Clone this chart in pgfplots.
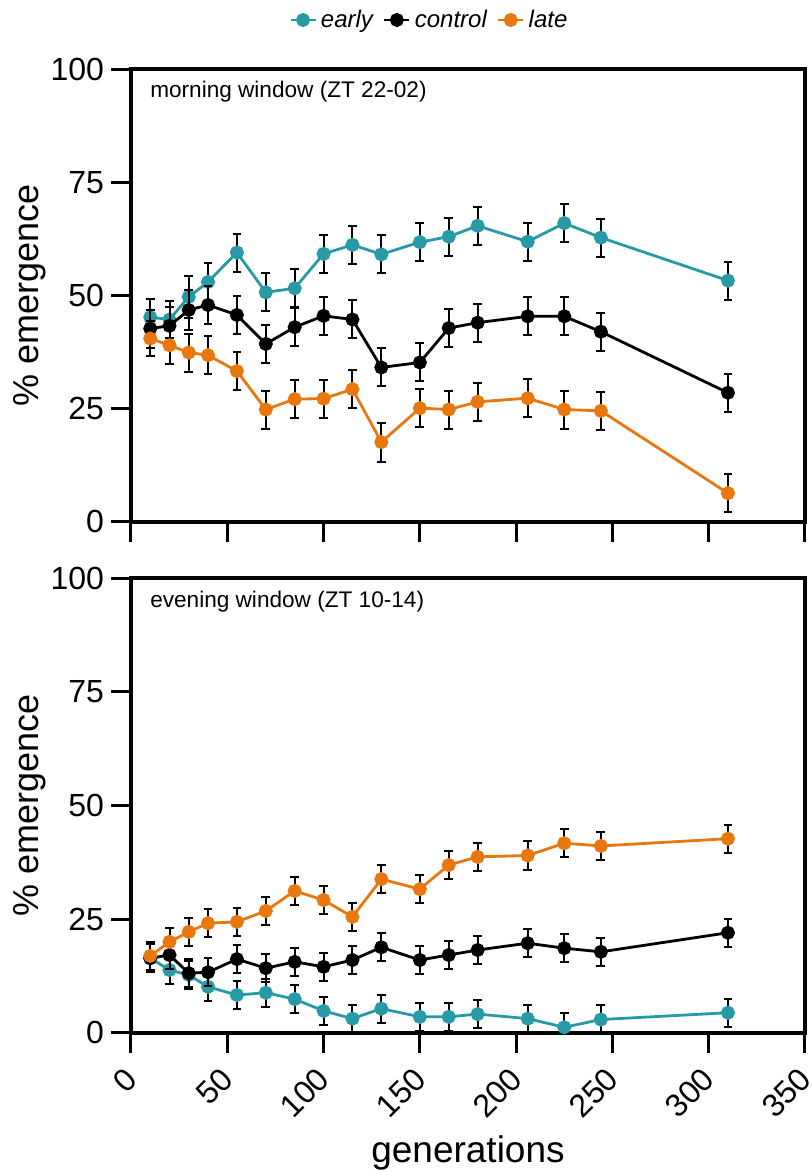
\documentclass[border=0pt]{standalone}
\usepackage{pgfplots}
\pgfplotsset{compat=1.18}
\usepackage{pgfplotstable}
\usepackage{fontspec}
\setmainfont{Liberation Sans}
\definecolor{cteal}{RGB}{40,154,166}
\definecolor{corange}{RGB}{232,119,14}

\pgfplotstableread{
gen early eerr control cerr late lerr
10  45.2 4.0 42.7 4.2 40.5 3.8
20  44.7 4.0 43.3 4.2 39.0 4.2
30  49.7 4.6 46.8 4.5 37.4 4.2
40  53.0 4.2 47.9 4.2 36.8 4.2
55  59.5 4.2 45.7 4.2 33.3 4.2
70  50.7 4.2 39.3 4.2 24.8 4.2
85  51.6 4.2 43.0 4.2 27.1 4.2
100 59.2 4.2 45.5 4.2 27.2 4.2
115 61.2 4.2 44.7 4.2 29.3 4.2
130 59.1 4.2 34.1 4.2 17.6 4.3
150 61.8 4.2 35.2 4.2 25.1 4.2
165 63.0 4.2 42.8 4.2 24.8 4.2
180 65.4 4.2 44.0 4.2 26.5 4.2
206 61.9 4.2 45.4 4.2 27.3 4.2
225 66.0 4.2 45.4 4.2 24.8 4.2
244 62.8 4.2 42.0 4.2 24.5 4.2
310 53.3 4.2 28.5 4.2 6.3 4.2
}\topdata

\pgfplotstableread{
gen early eerr control cerr late lerr
10  16.4 3.1 16.4 3.1 16.9 3.1
20  13.8 3.1 17.1 3.1 20.0 3.1
30  12.7 3.1 13.1 3.1 22.2 3.1
40  10.1 3.1 13.3 3.1 24.1 3.1
55  8.3  3.1 16.2 3.1 24.4 3.1
70  8.8  3.1 14.2 3.1 26.8 3.1
85  7.4  3.1 15.6 3.1 31.2 3.1
100 4.8  3.1 14.5 3.1 29.2 3.1
115 3.1  3.1 16.0 3.1 25.5 3.1
130 5.3  3.1 18.8 3.1 33.8 3.1
150 3.5  3.1 16.0 3.1 31.6 3.1
165 3.5  3.1 17.1 3.1 36.9 3.1
180 4.1  3.1 18.2 3.1 38.7 3.1
206 3.1  3.1 19.7 3.1 39.0 3.1
225 1.2  3.1 18.6 3.1 41.7 3.1
244 2.9  3.1 17.8 3.1 41.1 3.1
310 4.4  3.1 22.0 3.1 42.7 3.1
}\botdata

\pgfplotsset{
  myaxis/.style={
    scale only axis, width=337pt,
    xmin=0, xmax=350, ymin=0, ymax=100,
    xtick={0,50,...,350}, ytick={0,25,50,75,100},
    axis line style={line width=2pt},
    every tick/.style={line width=1.5pt, black},
    major tick length=10pt,
    tick align=outside,
    xtick pos=bottom, ytick pos=left,
    ticklabel style={font=\fontsize{16}{19}\selectfont},
    /pgf/number format/assume math mode=true,
    ylabel={\% emergence},
    ylabel style={at={(axis description cs:-0.15,0.5)}, anchor=center, font=\fontsize{18}{21}\selectfont},
    clip mode=individual,
  },
  ser/.style={#1, line width=1.4pt, mark=*, mark size=2.8pt, mark options={solid},
    error bars/.cd, y dir=both, y explicit,
    error bar style={black, line width=1pt},
    error mark options={black, rotate=90, mark size=2.2pt, line width=1pt}},
}

\begin{document}
\begin{tikzpicture}
\useasboundingbox (0,0) rectangle (406pt,-586.5pt);
\begin{axis}[myaxis, at={(65.5pt,-260.85pt)}, anchor=south west, height=226.2pt,
    xticklabels={},
    legend style={at={(0.444,1.109)}, anchor=center, draw=none, fill=none,
      legend columns=-1, font=\itshape\fontsize{12}{14}\selectfont,
      /tikz/every even column/.append style={column sep=3pt}},
    legend image code/.code={
      \draw[#1, mark repeat=2, mark phase=2] plot coordinates {(0cm,0cm) (0.22cm,0cm) (0.44cm,0cm)};},
  ]
  \addplot[ser=cteal] table[x=gen, y=early, y error=eerr] {\topdata};
  \addlegendentry{early}
  \addplot[ser=black] table[x=gen, y=control, y error=cerr] {\topdata};
  \addlegendentry{control}
  \addplot[ser=corange] table[x=gen, y=late, y error=lerr] {\topdata};
  \addlegendentry{late}
  \node[anchor=base west, inner sep=0pt, font=\fontsize{11.3}{13}\selectfont] at (rel axis cs:0.028,0.937) {morning window (ZT 22-02)};
\end{axis}
\begin{axis}[myaxis, at={(65.5pt,-516.35pt)}, anchor=south west, height=227.2pt,
    xticklabel style={xshift=2.5pt, yshift=-8pt, rotate=45, anchor=east},
    xlabel={generations},
    xlabel style={at={(axis description cs:0.5,-0.264)}, anchor=center, font=\fontsize{18.5}{21}\selectfont},
  ]
  \addplot[ser=cteal] table[x=gen, y=early, y error=eerr] {\botdata};
  \addplot[ser=black] table[x=gen, y=control, y error=cerr] {\botdata};
  \addplot[ser=corange] table[x=gen, y=late, y error=lerr] {\botdata};
  \node[anchor=base west, inner sep=0pt, font=\fontsize{11.3}{13}\selectfont] at (rel axis cs:0.028,0.935) {evening window (ZT 10-14)};
\end{axis}
\end{tikzpicture}
\end{document}
